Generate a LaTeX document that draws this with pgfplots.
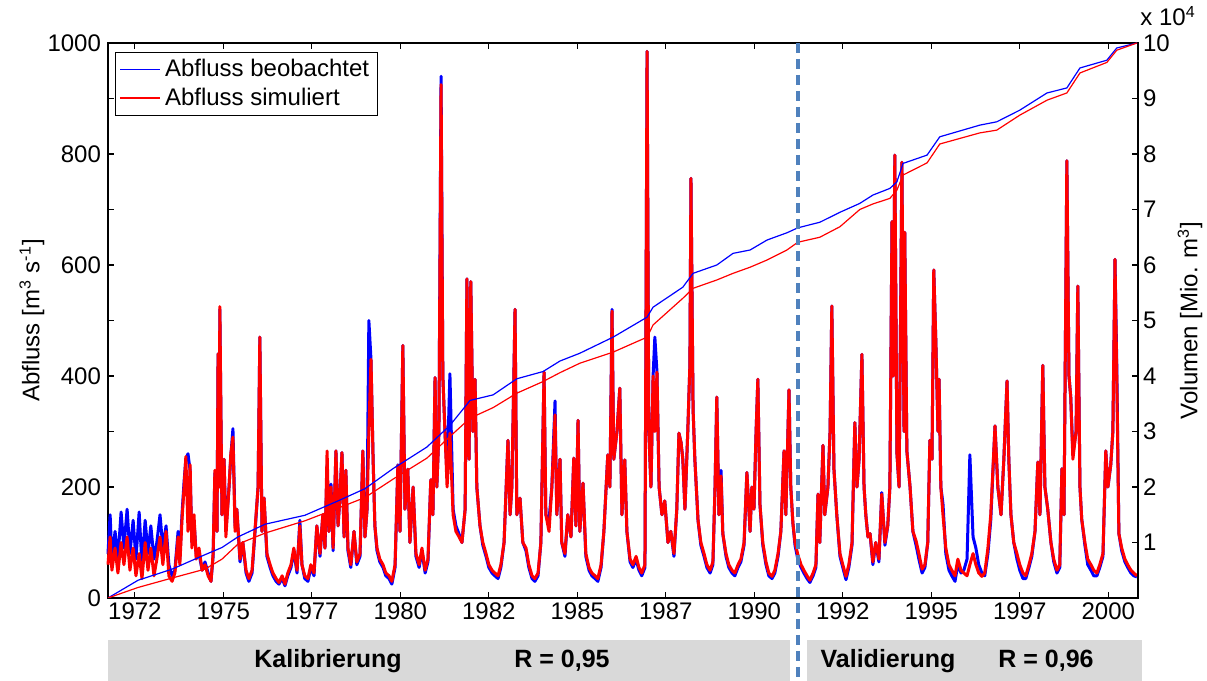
\documentclass[border=0pt]{standalone}
\usepackage{pgfplots}
\pgfplotsset{compat=1.18}
\usepackage{pgfplotstable}
\usepackage{fontspec}
\setmainfont{Liberation Sans}

\definecolor{boxgray}{RGB}{217,217,217}
\definecolor{sepblue}{RGB}{79,129,189}

% t = decimal year, obs = Abfluss beobachtet, sim = Abfluss simuliert [m3/s]
\pgfplotstableread{
t obs sim
1971.74 80 60
1971.80 150 110
1971.85 70 50
1971.94 120 90
1972.02 70 45
1972.11 155 100
1972.19 90 60
1972.28 160 110
1972.36 80 50
1972.45 140 90
1972.53 70 40
1972.62 155 80
1972.70 60 35
1972.79 140 100
1972.87 80 50
1972.95 130 90
1973.04 70 40
1973.12 100 70
1973.21 150 110
1973.29 90 60
1973.38 130 120
1973.46 60 40
1973.55 40 30
1973.63 50 45
1973.72 120 110
1973.77 70 60
1973.83 150 140
1973.89 210 200
1973.94 250 255
1974.00 260 120
1974.06 230 240
1974.11 100 90
1974.17 140 150
1974.23 80 70
1974.31 80 90
1974.40 50 50
1974.48 65 60
1974.57 45 40
1974.65 30 30
1974.71 75 80
1974.76 225 230
1974.82 120 120
1974.85 440 440
1974.88 200 200
1974.90 520 525
1974.96 150 150
1975.02 250 250
1975.07 120 110
1975.16 200 200
1975.21 255 260
1975.27 305 290
1975.33 130 120
1975.38 160 160
1975.47 65 70
1975.55 100 100
1975.64 45 50
1975.72 30 35
1975.81 45 50
1975.89 115 120
1975.98 200 200
1976.03 470 470
1976.09 120 120
1976.15 180 180
1976.23 75 80
1976.32 55 60
1976.40 40 45
1976.49 30 35
1976.57 25 28
1976.66 35 40
1976.74 22 25
1976.82 40 45
1976.91 55 60
1976.99 85 90
1977.08 45 50
1977.16 140 130
1977.22 60 60
1977.30 35 40
1977.39 30 35
1977.47 55 60
1977.56 40 45
1977.64 130 130
1977.73 75 80
1977.81 150 150
1977.87 90 90
1977.93 240 265
1977.98 120 120
1978.04 205 200
1978.10 85 90
1978.18 265 265
1978.24 130 130
1978.29 180 180
1978.35 262 262
1978.41 110 110
1978.46 230 230
1978.52 85 90
1978.60 55 60
1978.69 120 120
1978.77 60 65
1978.86 75 80
1978.94 265 265
1979.00 110 110
1979.06 160 160
1979.11 500 300
1979.17 430 430
1979.23 250 250
1979.28 130 130
1979.34 85 90
1979.42 65 70
1979.51 55 60
1979.59 40 45
1979.68 35 40
1979.76 25 30
1979.85 55 60
1979.93 240 239
1979.99 120 120
1980.07 455 455
1980.13 160 160
1980.21 232 232
1980.27 100 100
1980.36 200 200
1980.44 75 80
1980.53 55 60
1980.61 85 90
1980.70 45 50
1980.78 65 70
1980.86 213 213
1980.92 150 150
1980.98 397 397
1981.03 200 200
1981.09 300 300
1981.15 940 925
1981.20 400 400
1981.26 300 300
1981.32 220 200
1981.40 404 297
1981.49 160 150
1981.57 130 120
1981.66 115 110
1981.74 100 100
1981.83 160 160
1981.88 575 575
1981.94 250 250
1981.99 570 570
1982.05 300 300
1982.11 394 394
1982.16 200 200
1982.25 130 130
1982.33 95 100
1982.42 75 80
1982.50 55 60
1982.59 45 50
1982.67 40 45
1982.76 35 40
1982.84 55 60
1982.93 100 100
1983.04 284 284
1983.10 150 150
1983.15 200 200
1983.24 520 520
1983.29 150 150
1983.38 180 180
1983.46 100 100
1983.55 85 90
1983.63 55 60
1983.72 35 40
1983.80 30 35
1983.89 40 45
1983.97 100 100
1984.06 407 407
1984.11 150 150
1984.20 140 120
1984.28 200 200
1984.37 355 330
1984.42 150 150
1984.51 250 250
1984.56 100 100
1984.65 75 80
1984.73 150 150
1984.82 110 110
1984.90 252 252
1984.96 130 130
1985.02 320 320
1985.07 120 120
1985.16 207 207
1985.24 75 80
1985.33 50 55
1985.41 40 45
1985.50 35 40
1985.58 30 35
1985.67 55 60
1985.75 120 120
1985.86 258 258
1985.92 200 200
1985.98 520 517
1986.03 250 250
1986.12 300 300
1986.20 378 378
1986.26 150 150
1986.34 249 249
1986.40 120 120
1986.49 65 70
1986.57 55 60
1986.66 70 75
1986.74 50 55
1986.82 40 45
1986.91 55 60
1986.97 985 985
1987.02 300 300
1987.08 200 200
1987.14 400 400
1987.19 470 300
1987.25 407 407
1987.31 200 200
1987.39 150 150
1987.47 175 175
1987.56 100 100
1987.64 120 120
1987.73 75 80
1987.81 160 160
1987.87 297 297
1987.93 280 280
1987.98 250 250
1988.04 160 160
1988.12 300 300
1988.18 420 420
1988.21 756 756
1988.27 340 340
1988.32 250 250
1988.41 140 140
1988.49 95 100
1988.58 75 80
1988.66 55 60
1988.75 45 50
1988.83 60 65
1988.89 200 200
1988.94 362 362
1989.00 150 150
1989.06 230 220
1989.11 116 116
1989.20 75 80
1989.28 55 60
1989.37 45 50
1989.45 40 45
1989.54 55 60
1989.62 65 70
1989.71 95 100
1989.79 226 226
1989.88 120 120
1989.93 200 200
1989.99 160 160
1990.05 300 300
1990.10 394 394
1990.16 168 168
1990.24 95 100
1990.33 60 65
1990.41 40 45
1990.50 35 39
1990.58 45 50
1990.67 75 80
1990.75 120 120
1990.84 265 265
1990.89 150 150
1990.98 375 375
1991.03 200 200
1991.09 135 135
1991.15 95 100
1991.23 70 78
1991.32 55 60
1991.40 45 50
1991.49 35 40
1991.57 28 32
1991.66 40 45
1991.74 55 60
1991.80 187 187
1991.85 100 100
1991.94 275 275
1991.99 150 150
1992.08 200 200
1992.14 300 300
1992.19 526 526
1992.25 232 232
1992.33 150 150
1992.42 75 80
1992.50 55 60
1992.59 33 39
1992.67 55 60
1992.76 95 100
1992.84 316 316
1992.90 200 200
1992.96 250 250
1993.04 439 439
1993.10 200 200
1993.15 150 150
1993.21 110 110
1993.27 116 116
1993.35 60 65
1993.43 100 100
1993.52 65 70
1993.60 190 187
1993.69 95 100
1993.77 130 130
1993.83 200 200
1993.89 678 678
1993.92 400 400
1993.97 798 798
1994.03 260 260
1994.09 200 200
1994.17 785 785
1994.23 300 300
1994.25 659 659
1994.31 265 265
1994.40 200 200
1994.48 120 120
1994.57 95 103
1994.65 70 80
1994.74 45 52
1994.82 55 60
1994.90 100 100
1994.96 284 284
1995.02 250 250
1995.07 591 591
1995.13 459 459
1995.19 300 300
1995.22 394 394
1995.27 200 200
1995.33 170 150
1995.41 80 90
1995.50 50 60
1995.58 40 50
1995.67 30 40
1995.75 60 70
1995.84 45 50
1995.92 50 45
1996.01 70 40
1996.09 258 60
1996.18 110 80
1996.26 90 60
1996.34 60 45
1996.43 45 39
1996.51 40 45
1996.60 80 90
1996.68 140 150
1996.80 310 310
1996.88 200 200
1996.97 150 150
1997.05 250 250
1997.14 391 391
1997.19 250 250
1997.25 150 150
1997.33 100 100
1997.42 70 80
1997.50 50 60
1997.59 35 45
1997.67 35 40
1997.76 55 60
1997.84 75 80
1997.93 120 120
1998.01 245 245
1998.07 150 150
1998.15 419 419
1998.21 200 200
1998.29 160 160
1998.38 100 100
1998.46 65 70
1998.55 45 50
1998.63 55 60
1998.69 233 233
1998.75 150 150
1998.83 788 788
1998.89 400 400
1998.94 362 362
1999.00 260 250
1999.09 300 300
1999.14 562 562
1999.20 200 200
1999.25 142 142
1999.34 95 100
1999.42 60 70
1999.51 50 60
1999.59 40 50
1999.68 40 45
1999.76 55 60
1999.85 75 80
1999.93 265 265
1999.99 200 200
2000.07 240 240
2000.13 300 300
2000.19 610 610
2000.24 420 400
2000.30 116 116
2000.38 85 90
2000.47 65 70
2000.55 55 60
2000.64 45 50
2000.72 40 45
2000.81 38 40
}\flow

% cumulative volume [Mio. m3]
\pgfplotstableread{
t vobs vsim
1971.74 0 0
1972.59 3200 1900
1973.55 5200 3600
1974.48 7800 5200
1974.96 9100 7000
1975.41 11000 9700
1976.18 13300 11700
1977.30 14900 13900
1978.24 17500 16200
1979.00 19700 18100
1979.79 23300 21400
1980.75 27200 25200
1981.40 31100 29100
1981.97 35600 32400
1982.62 36600 34300
1983.29 39500 36900
1984.03 40800 39000
1984.51 42700 40600
1985.07 44100 42300
1986.01 47000 44300
1986.97 50600 47000
1987.14 52400 49200
1987.98 56000 54000
1988.27 58500 55800
1988.94 60000 57300
1989.40 62100 58500
1989.88 62700 59600
1990.36 64500 60900
1990.92 65800 62700
1991.23 66700 64100
1991.85 67700 65000
1992.42 69500 66900
1992.98 71100 70000
1993.35 72600 71000
1993.83 73800 72000
1994.03 75000 73500
1994.20 78300 76200
1994.88 79800 78400
1995.24 83100 81800
1996.37 85200 83800
1996.85 85800 84300
1997.50 87900 87000
1998.27 91000 89700
1998.83 91900 91000
1999.20 95500 94600
1999.96 96900 96500
2000.24 99100 98700
2000.81 100000 100000
}\volume

\pgfplotsset{
  every axis/.append style={
    at={(0pt,0pt)}, anchor=south west,
    scale only axis, width=515pt, height=277.5pt,
    xmin=1971.74, xmax=2000.84,
    tick align=inside,
    major tick length=3pt, minor tick length=3pt,
    tick style={black, line width=0.6pt},
    axis line style={line width=0.9pt},
    tick label style={font=\fontsize{12}{14}\selectfont},
    label style={font=\fontsize{12}{14}\selectfont},
    /pgf/number format/assume math mode=true,
    /pgf/number format/1000 sep={},
  },
}

\begin{document}
\begin{tikzpicture}
\useasboundingbox (-54pt,-41.5pt) rectangle (549.5pt,299pt);

\begin{axis}[
  ymin=0, ymax=1000,
  ytick={0,200,400,600,800,1000},
  minor ytick={100,300,500,700,900},
  scaled y ticks=false,
  ytick pos=left,
  xtick pos=both, xticklabel pos=lower,
  xtick={1972.5,1975,1977.5,1980,1982.5,1985,1987.5,1990,1992.5,1995,1997.5,2000},
  xticklabels={1972,1975,1977,1980,1982,1985,1987,1990,1992,1995,1997,2000},
  xticklabel style={yshift=1pt},
  ylabel={Abfluss [m\textsuperscript{3} s\textsuperscript{-1}]},
  ylabel style={at={(axis description cs:-0.0738,0.5)}, anchor=center},
  legend style={at={(axis description cs:0.0068,0.984)}, anchor=north west,
    draw=black, line width=0.6pt, font=\fontsize{12}{14}\selectfont,
    inner xsep=2pt, inner ysep=1.5pt, row sep=0pt},
  legend cell align=left,
  legend image code/.code={\draw[#1, line width=0.7pt] (0pt,0pt) -- (20pt,0pt);},
  clip=false,
]
\addplot[blue, line width=1.5pt, line join=round] table[x=t, y=obs] {\flow};
\addlegendentry{Abfluss beobachtet}
\addplot[red, line width=1.5pt, line join=round] table[x=t, y=sim] {\flow};
\addlegendentry{Abfluss simuliert}
\end{axis}

\begin{axis}[
  ymin=0, ymax=100000,
  axis y line*=right, axis x line=none,
  ytick={10000,20000,30000,40000,50000,60000,70000,80000,90000,100000},
  yticklabels={1,2,3,4,5,6,7,8,9,10},
  scaled y ticks=false,
  yticklabel style={xshift=-1pt},
  ylabel={Volumen [Mio. m\textsuperscript{3}]},
  ylabel style={at={(axis description cs:1.0505,0.5)}, anchor=center},
]
\addplot[blue, line width=0.6pt] table[x=t, y=vobs] {\volume};
\addplot[red, line width=0.6pt] table[x=t, y=vsim] {\volume};
\end{axis}

\node[anchor=base west, inner sep=0pt, font=\fontsize{12}{14}\selectfont] at (516pt,286pt) {x 10\textsuperscript{4}};

\draw[sepblue, line width=2pt, dash pattern=on 5pt off 3pt] (345pt,277.5pt) -- (345pt,-41.5pt);

\fill[boxgray] (0pt,-21pt) rectangle (341pt,-41.5pt);
\fill[boxgray] (349.5pt,-21pt) rectangle (517pt,-41.5pt);
\begin{scope}[every node/.style={font=\bfseries\fontsize{12.5}{15}\selectfont, inner sep=0pt}]
\node at (110pt,-31.5pt) {Kalibrierung};
\node at (227pt,-31.5pt) {R = 0,95};
\node at (390pt,-31.5pt) {Validierung};
\node at (469pt,-31.5pt) {R = 0,96};
\end{scope}
\end{tikzpicture}
\end{document}
